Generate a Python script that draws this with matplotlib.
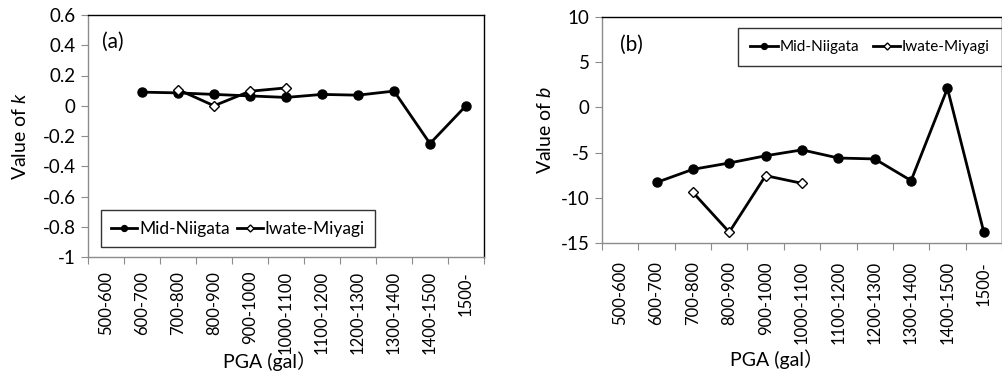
import matplotlib
matplotlib.use("Agg")
import matplotlib.pyplot as plt
import numpy as np

plt.rcParams['font.family'] = ['Lato', 'Noto Sans CJK JP', 'DejaVu Sans']
plt.rcParams['mathtext.fontset'] = 'custom'
plt.rcParams['mathtext.it'] = 'Lato:italic'
plt.rcParams['mathtext.rm'] = 'Lato'

categories = ["500-600", "600-700", "700-800", "800-900", "900-1000", "1000-1100",
              "1100-1200", "1200-1300", "1300-1400", "1400-1500", "1500-"]

# values of k (panel a); None = no data
k_mid = [None, 0.09, 0.085, 0.075, 0.065, 0.055, 0.075, 0.07, 0.097, -0.25, 0.0]
k_iwate = [None, None, 0.107, 0.0, 0.096, 0.118, None, None, None, None, None]

# values of b (panel b)
b_mid = [None, -8.3, -6.85, -6.15, -5.35, -4.7, -5.6, -5.7, -8.1, 2.1, -13.8]
b_iwate = [None, None, -9.4, -13.8, -7.55, -8.4, None, None, None, None, None]

k_ticks = [0.6, 0.4, 0.2, 0, -0.2, -0.4, -0.6, -0.8, -1]
k_labels = ["0.6", "0.4", "0.2", "0", "-0.2", "-0.4", "-0.6", "-0.8", "-1"]
b_ticks = [10, 5, 0, -5, -10, -15]
b_labels = ["10", "5", "0", "-5", "-10", "-15"]

FS = 13.5
GRAY = '#8c8c8c'

fig = plt.figure(figsize=(10.03, 3.74), dpi=100)
axA = fig.add_axes([88/1003, 1-257/374, 396/1003, 242/374])
axB = fig.add_axes([602/1003, 1-243/374, 400/1003, 226/374])


def series(vals):
    x = np.array([i for i, v in enumerate(vals) if v is not None], dtype=float)
    y = np.array([v for v in vals if v is not None], dtype=float)
    return x, y


def style(ax, yt, yl, ylim, pad):
    n = len(categories)
    ax.set_xlim(-0.5, n - 0.5)
    ax.set_ylim(*ylim)
    ax.set_xticks(np.arange(-0.5, n, 1.0))
    ax.set_xticklabels([])
    ax.set_xticks(np.arange(n), minor=True)
    ax.set_xticklabels(categories, minor=True, rotation=90, fontsize=12, va='top')
    ax.tick_params(axis='x', which='minor', length=0, pad=pad)
    ax.tick_params(axis='x', which='major', length=5, color=GRAY, direction='out')
    ax.set_yticks(yt)
    ax.set_yticklabels(yl, fontsize=FS)
    ax.tick_params(axis='y', length=5, color=GRAY, direction='out', pad=4)
    for s in ['left', 'bottom']:
        ax.spines[s].set_color(GRAY)
        ax.spines[s].set_linewidth(1.0)
    for s in ['top', 'right']:
        ax.spines[s].set_color('black')
        ax.spines[s].set_linewidth(1.0)


def draw(ax, mid, iw):
    x, y = series(mid)
    ax.plot(x, y, '-o', color='black', lw=2.0, ms=6.5, label='Mid-Niigata', zorder=3)
    x, y = series(iw)
    ax.plot(x, y, '-D', color='black', lw=2.0, ms=5.5, mfc='white', mec='black',
            mew=1.0, label='Iwate-Miyagi', zorder=4)


draw(axA, k_mid, k_iwate)
style(axA, k_ticks, k_labels, (-1, 0.6), 10)
axA.text(0.035, 0.93, "(a)", transform=axA.transAxes, fontsize=15, va='top')
fig.text(20/1003, 1-136/374, "Value of $k$", rotation=90, fontsize=FS + 0.5,
         ha='center', va='center')
fig.text(270/1003, 1-361/374, "PGA (gal）", fontsize=FS + 0.5, ha='center', va='center')
legA = axA.legend(loc='lower left', bbox_to_anchor=(13/396, 10/242), borderaxespad=0,
                  ncol=2, fontsize=12.5,
                  frameon=True, fancybox=False, edgecolor='black', handlelength=1.5,
                  handletextpad=0.1, columnspacing=0.4, borderpad=0.6, numpoints=1,
                  markerscale=0.65)
legA.get_frame().set_linewidth(1.0)

draw(axB, b_mid, b_iwate)
style(axB, b_ticks, b_labels, (-15, 10), 13)
axB.text(0.045, 0.92, "(b)", transform=axB.transAxes, fontsize=15, va='top')
fig.text(545/1003, 1-130/374, "Value of $b$", rotation=90, fontsize=FS + 0.5,
         ha='center', va='center')
fig.text(777/1003, 1-359/374, "PGA (gal）", fontsize=FS + 0.5, ha='center', va='center')
legB = axB.legend(loc='upper right', bbox_to_anchor=(1.0, 1 - 11/226), borderaxespad=0,
                  ncol=2, fontsize=11,
                  frameon=True, fancybox=False, edgecolor='black', handlelength=1.8,
                  handletextpad=0.1, columnspacing=0.9, borderpad=0.8, numpoints=1,
                  markerscale=0.65)
legB.get_frame().set_linewidth(1.0)

fig.savefig("out.png", dpi=100)
